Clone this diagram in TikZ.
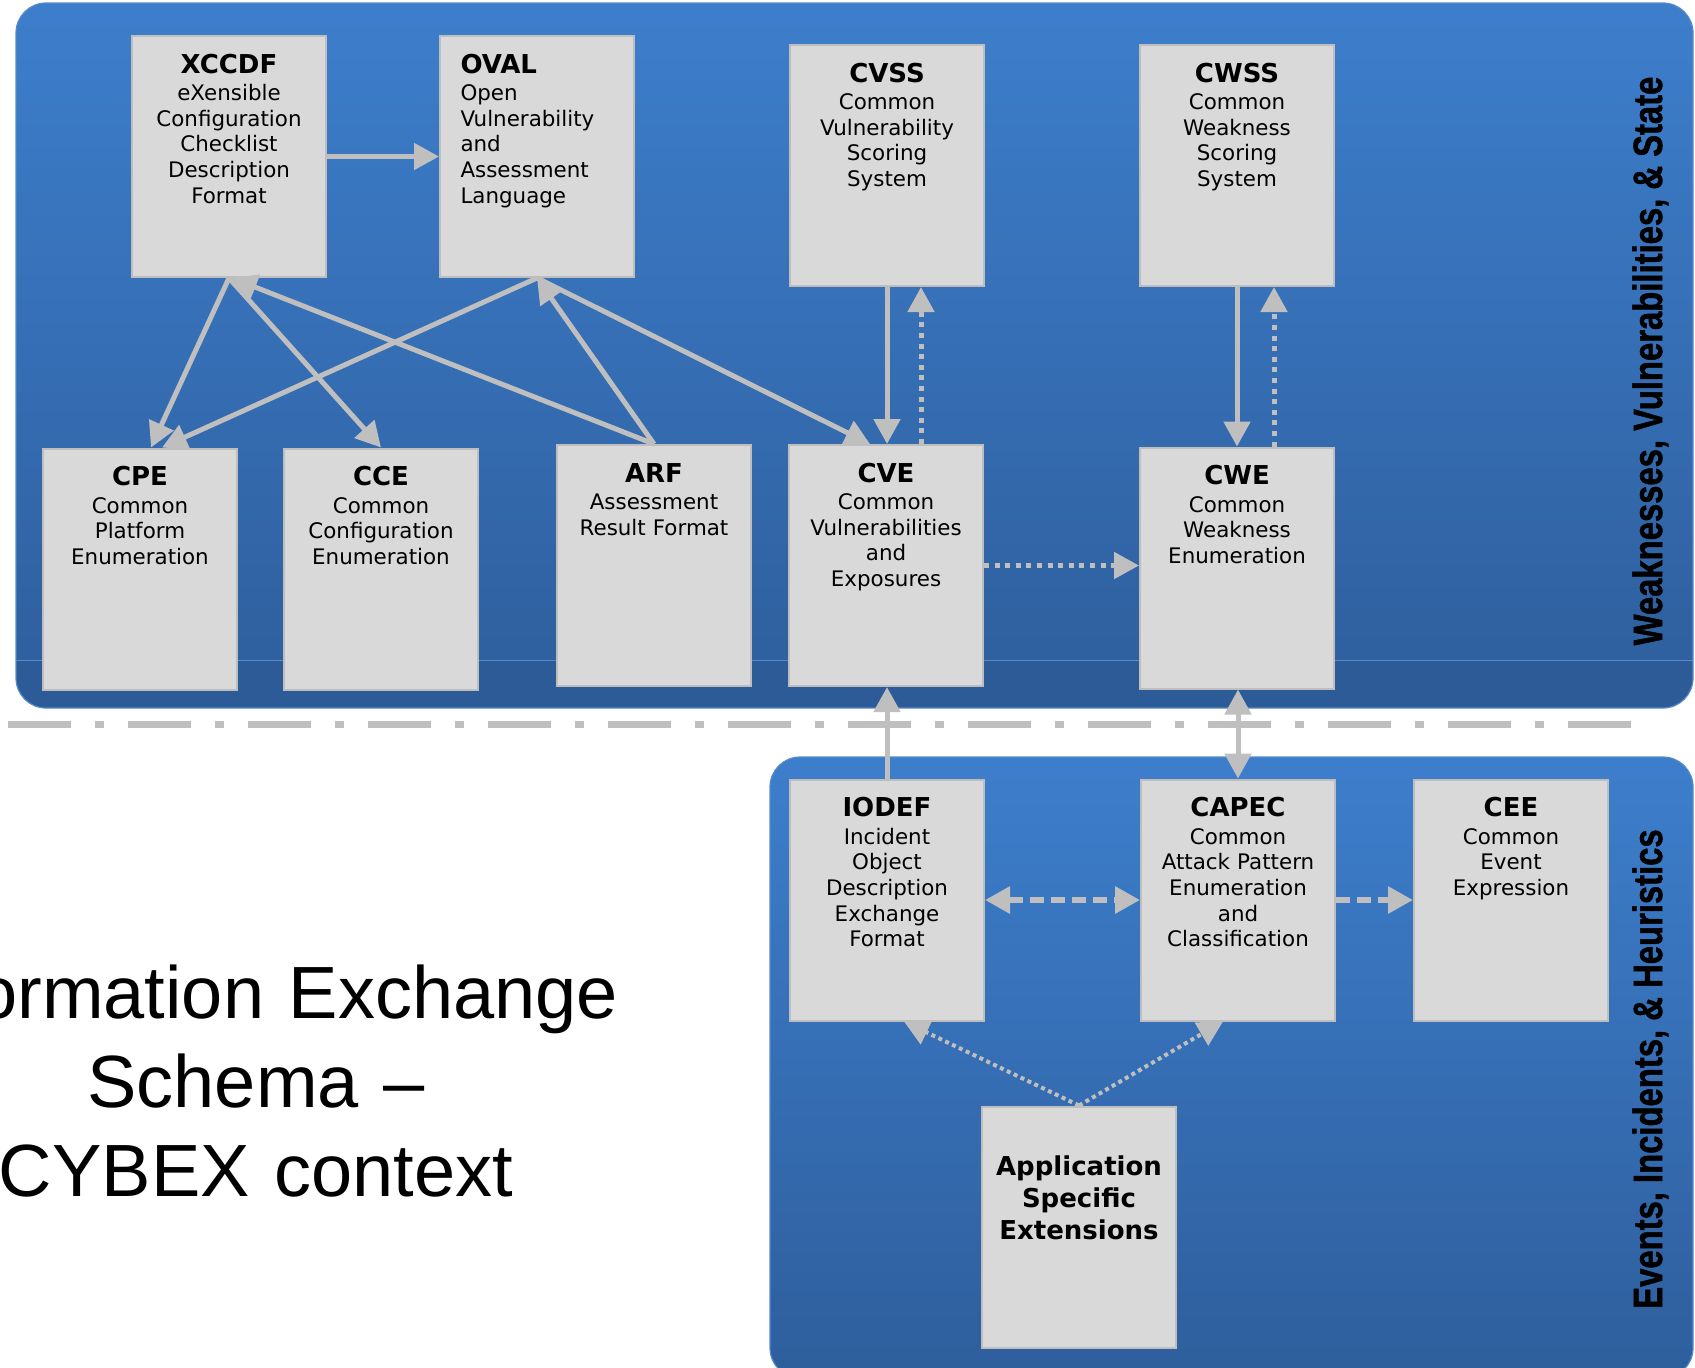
\documentclass[tikz,border=0pt]{standalone}
\usepackage{fontspec}
\setmainfont{DejaVu Sans}
\newfontfamily\headfont{Liberation Sans}
\newfontfamily\sidefont[FakeStretch=0.8,FakeBold=1.2]{Liberation Sans Bold}
\usetikzlibrary{arrows.meta,calc}

\definecolor{panelTop}{RGB}{61,126,204}
\definecolor{panelBot}{RGB}{46,94,156}
\definecolor{panelEdge}{RGB}{88,138,200}
\definecolor{stripe}{RGB}{44,91,151}
\definecolor{boxfill}{RGB}{217,217,217}
\definecolor{boxline}{RGB}{190,190,190}
\definecolor{linkgrey}{RGB}{191,191,191}

\newcommand\boxtitle[1]{{\fontsize{13}{15}\selectfont\bfseries #1}}

\tikzset{
  stdbox/.style={draw=boxline, fill=boxfill, line width=1pt,
    minimum width=97pt, minimum height=120.5pt, inner sep=0pt},
  boxtext/.style={text width=90pt, align=center, inner sep=0pt, anchor=base,
    font=\fontsize{10.7}{12.85}\selectfont},
  link/.style={draw=linkgrey, line width=2.5pt,
    -{Triangle[width=13pt,length=12.5pt]}},
  duallink/.style={draw=linkgrey, line width=2.5pt,
    {Triangle[width=13pt,length=12.5pt]}-{Triangle[width=13pt,length=12.5pt]}},
  dotlink/.style={dash pattern=on 2.5pt off 2.8pt},
  dashlink/.style={line width=3pt, dash pattern=on 7pt off 3.5pt},
  finelink/.style={line width=2pt, dash pattern=on 2pt off 1.8pt},
  sidelabel/.style={font=\sidefont\fontsize{20.5}{25}\selectfont, rotate=90,
    anchor=base, inner sep=0pt},
}

\begin{document}
\begin{tikzpicture}[x=0.5pt,y=-0.5pt]
\useasboundingbox (0,0) rectangle (1695,1367);

% upper panel: weaknesses, vulnerabilities and state
\shade[top color=panelTop, bottom color=panelBot, rounded corners=15pt]
  (16,3) rectangle (1693,708);
\begin{scope}
  \clip[rounded corners=15pt] (16,3) rectangle (1693,708);
  \fill[stripe] (16,660) rectangle (1693,708);
  \draw[panelEdge, line width=0.5pt] (16,660) -- (1693,660);
\end{scope}
\draw[panelEdge, line width=0.6pt, rounded corners=15pt] (16,3) rectangle (1693,708);

% lower panel: events, incidents and heuristics
\shade[top color=panelTop, bottom color=panelBot, rounded corners=15pt]
  (770,757) rectangle (1693,1378);
\draw[panelEdge, line width=0.6pt, rounded corners=15pt] (770,757) rectangle (1693,1378);

% dash-dot separator
\coordinate (sepL) at (7.7,724.5);
\coordinate (sepR) at (1631,724.5);
\draw[linkgrey, line width=3.6pt, dash pattern=on 31.5pt off 12pt on 4.5pt off 12pt]
  (sepL) -- (sepR);

% boxes
\node[stdbox] (xccdf) at (229,156.5) {};
\node[stdbox] (oval)  at (537,156.5) {};
\node[stdbox] (cvss)  at (887,165.5) {};
\node[stdbox] (cwss)  at (1237,165.5) {};
\node[stdbox] (cpe)   at (140,569) {};
\node[stdbox] (cce)   at (381,569) {};
\node[stdbox] (arf)   at (654,565.5) {};
\node[stdbox] (cve)   at (886,565.5) {};
\node[stdbox] (cwe)   at (1237,568) {};
\node[stdbox] (iodef) at (887,900) {};
\node[stdbox] (capec) at (1238,900) {};
\node[stdbox] (cee)   at (1511,900) {};
\node[stdbox] (app)   at (1079,1227) {};

% box texts
\node[boxtext] (xccdf-t) at ($(xccdf.north)+(0,38)$)
  {\boxtitle{XCCDF}\\[0.9pt] eXensible\\ Configuration\\ Checklist\\ Description\\ Format};
\node[boxtext, text width=76.5pt, align=left] (oval-t) at ($(oval.north)+(0,38)$)
  {\boxtitle{OVAL}\\[0.9pt] Open\\ Vulnerability\\ and\\ Assessment\\ Language};
\node[boxtext] (cvss-t) at ($(cvss.north)+(0,38)$)
  {\boxtitle{CVSS}\\[0.9pt] Common\\ Vulnerability\\ Scoring\\ System};
\node[boxtext] (cwss-t) at ($(cwss.north)+(0,38)$)
  {\boxtitle{CWSS}\\[0.9pt] Common\\ Weakness\\ Scoring\\ System};
\node[boxtext] (cpe-t) at ($(cpe.north)+(0,38)$)
  {\boxtitle{CPE}\\[0.9pt] Common\\ Platform\\ Enumeration};
\node[boxtext] (cce-t) at ($(cce.north)+(0,38)$)
  {\boxtitle{CCE}\\[0.9pt] Common\\ Configuration\\ Enumeration};
\node[boxtext] (arf-t) at ($(arf.north)+(0,38)$)
  {\boxtitle{ARF}\\[0.9pt] Assessment\\ Result Format};
\node[boxtext] (cve-t) at ($(cve.north)+(0,38)$)
  {\boxtitle{CVE}\\[0.9pt] Common\\ Vulnerabilities\\ and\\ Exposures};
\node[boxtext] (cwe-t) at ($(cwe.north)+(0,38)$)
  {\boxtitle{CWE}\\[0.9pt] Common\\ Weakness\\ Enumeration};
\node[boxtext] (iodef-t) at ($(iodef.north)+(0,38)$)
  {\boxtitle{IODEF}\\[0.9pt] Incident\\ Object\\ Description\\ Exchange\\ Format};
\node[boxtext] (capec-t) at ($(capec.north)+(0,38)$)
  {\boxtitle{CAPEC}\\[0.9pt] Common\\ Attack Pattern\\ Enumeration\\ and\\ Classification};
\node[boxtext] (cee-t) at ($(cee.north)+(0,38)$)
  {\boxtitle{CEE}\\[0.9pt] Common\\ Event\\ Expression};
\node[boxtext, font=\fontsize{13}{16}\selectfont\bfseries] (app-t) at ($(app.north)+(0,70)$)
  {Application\\ Specific\\ Extensions};

% connectors
\draw[link] (xccdf.east) -- (oval.west);
\draw[link] (xccdf.south) -- ($(cpe.north)+(11,0)$);
\draw[link] (xccdf.south) -- (cce.north);
\draw[link] (arf.north) -- ($(xccdf.south)+(3,0)$);
\draw[link] (arf.north) -- (oval.south);
\draw[link] (oval.south) -- ($(cpe.north)+(22,0)$);
\draw[link] (oval.south) -- ($(cve.north)+(-16,0)$);
\draw[link] (cvss.south) -- (cvss.south |- cve.north);
\draw[link, dotlink] ($(cve.north)+(35,0)$) -- ($(cvss.south)+(34,0)$);
\draw[link] (cwss.south) -- (cwe.north);
\draw[link, dotlink] ($(cwe.north)+(37,0)$) -- ($(cwss.south)+(37,0)$);
\draw[link, dotlink] (cve.east) -- (cve.east -| cwe.west);
\draw[link] (iodef.north) -- (iodef.north |- cve.south);
\draw[duallink] (capec.north) -- (capec.north |- cwe.south);
\draw[duallink, dashlink] (iodef.east) -- (capec.west);
\draw[link, dashlink] (capec.east) -- (cee.west);
\draw[link, finelink] (app.north) -- ($(iodef.south)+(17,0)$);
\draw[link, finelink] (app.north) -- ($(capec.south)+(-15,0)$);

% side labels
\node[sidelabel] (upper-label) at (1662,361) {Weaknesses, Vulnerabilities, \& State};
\node[sidelabel] (lower-label) at (1662,1069) {Events, Incidents, \& Heuristics};

% heading on the left
\node[font=\headfont\fontsize{37}{44.5}\selectfont, text width=400pt, align=center,
  anchor=base, inner sep=0pt] (heading) at (256,1018)
  {Information Exchange\\ Schema –\\ CYBEX context};
\end{tikzpicture}
\end{document}
